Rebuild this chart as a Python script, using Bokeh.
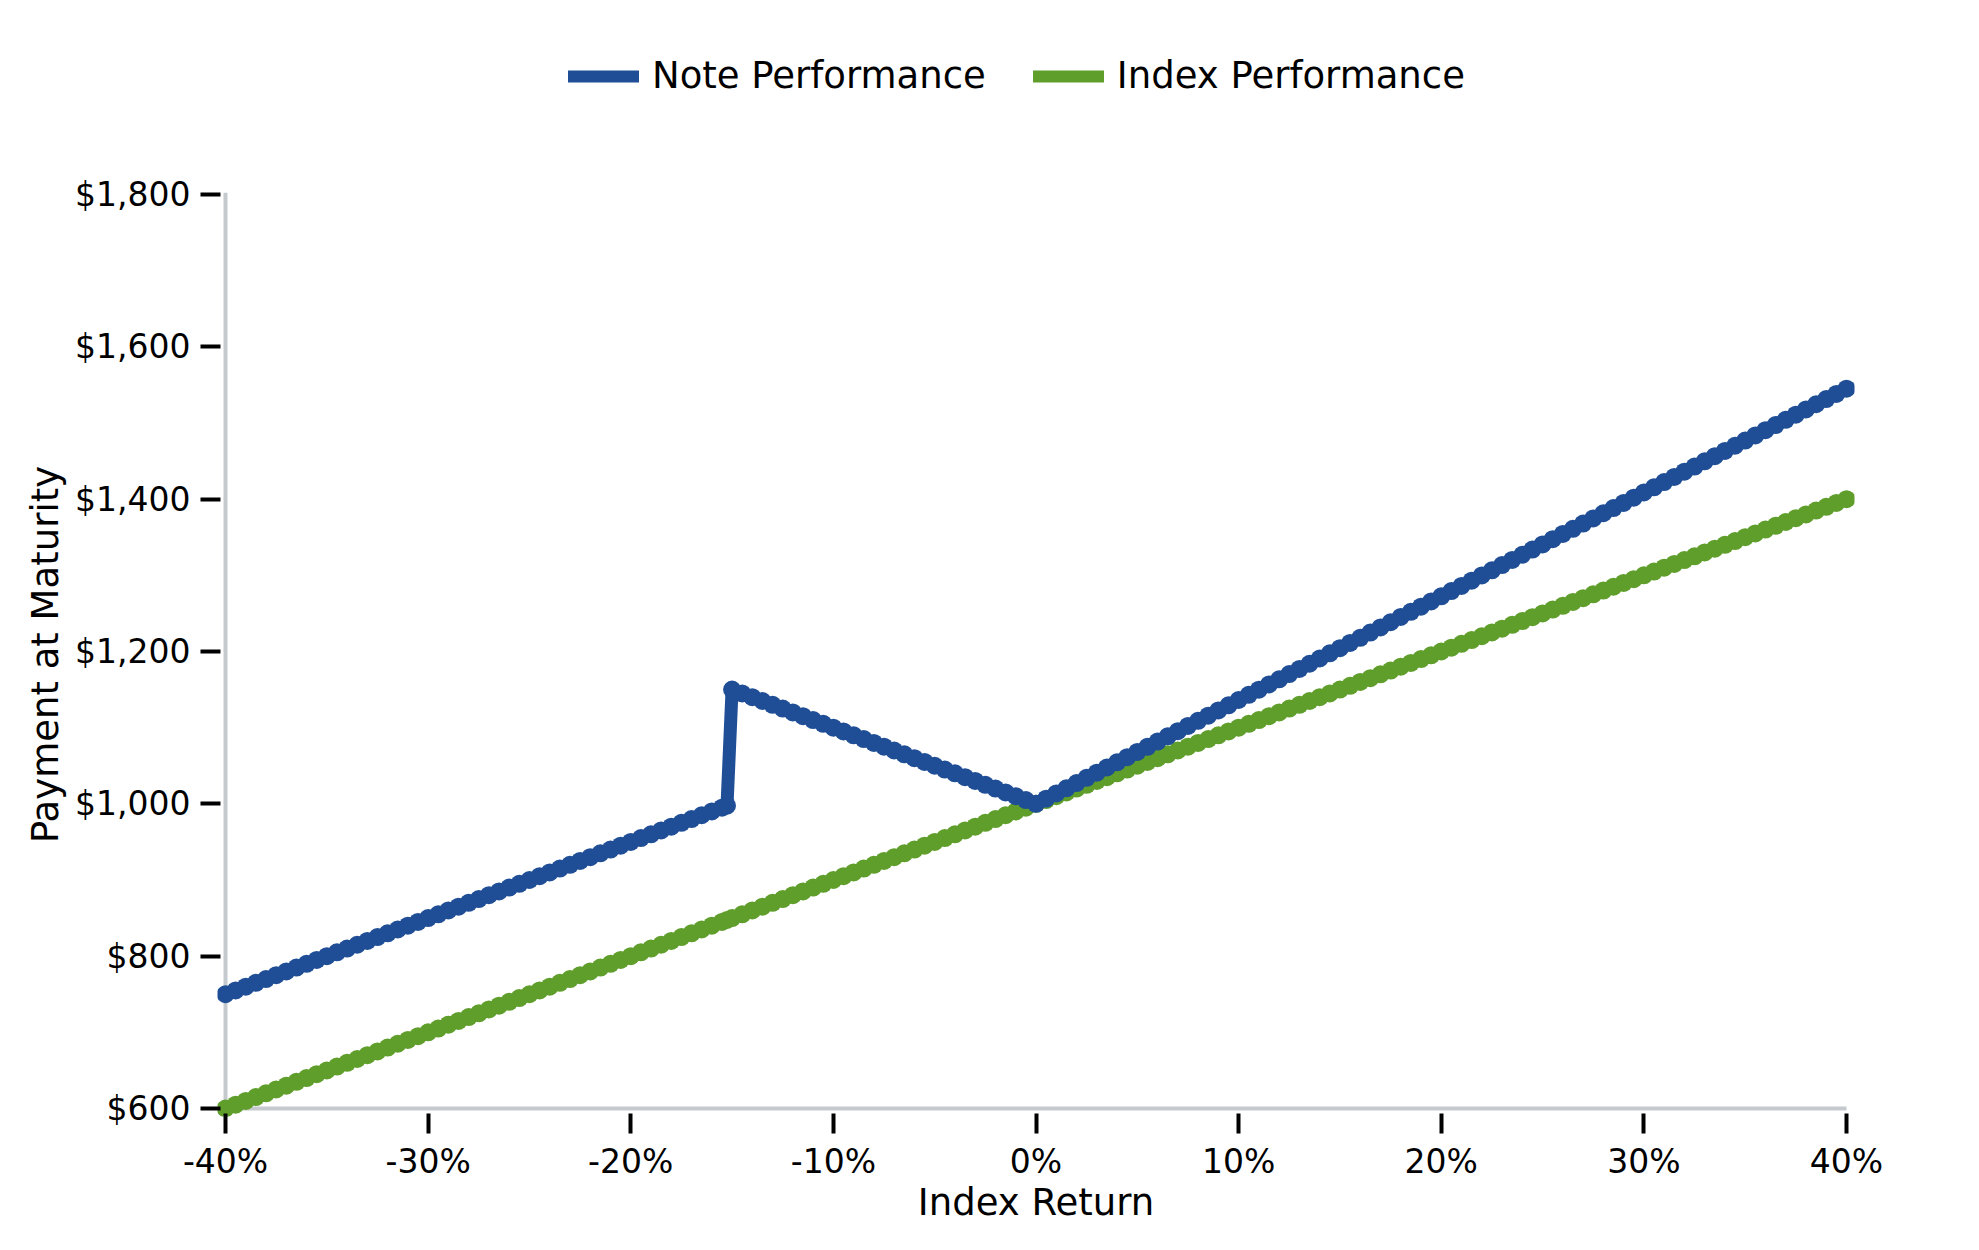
from bokeh.plotting import figure
from bokeh.layouts import column
from bokeh.models import Range1d, FixedTicker, Legend, LegendItem, ColumnDataSource
from bokeh.embed import file_html
from bokeh.resources import INLINE

# ---- data ----
index_return = [
    -40.0, -39.5, -39.0, -38.5, -38.0, -37.5, -37.0, -36.5, -36.0, -35.5,
    -35.0, -34.5, -34.0, -33.5, -33.0, -32.5, -32.0, -31.5, -31.0, -30.5,
    -30.0, -29.5, -29.0, -28.5, -28.0, -27.5, -27.0, -26.5, -26.0, -25.5,
    -25.0, -24.5, -24.0, -23.5, -23.0, -22.5, -22.0, -21.5, -21.0, -20.5,
    -20.0, -19.5, -19.0, -18.5, -18.0, -17.5, -17.0, -16.5, -16.0, -15.5,
    -15.25,
    -15.0, -14.5, -14.0, -13.5, -13.0, -12.5, -12.0, -11.5, -11.0, -10.5,
    -10.0, -9.5, -9.0, -8.5, -8.0, -7.5, -7.0, -6.5, -6.0, -5.5,
    -5.0, -4.5, -4.0, -3.5, -3.0, -2.5, -2.0, -1.5, -1.0, -0.5,
    0.0, 0.5, 1.0, 1.5, 2.0, 2.5, 3.0, 3.5, 4.0, 4.5,
    5.0, 5.5, 6.0, 6.5, 7.0, 7.5, 8.0, 8.5, 9.0, 9.5,
    10.0, 10.5, 11.0, 11.5, 12.0, 12.5, 13.0, 13.5, 14.0, 14.5,
    15.0, 15.5, 16.0, 16.5, 17.0, 17.5, 18.0, 18.5, 19.0, 19.5,
    20.0, 20.5, 21.0, 21.5, 22.0, 22.5, 23.0, 23.5, 24.0, 24.5,
    25.0, 25.5, 26.0, 26.5, 27.0, 27.5, 28.0, 28.5, 29.0, 29.5,
    30.0, 30.5, 31.0, 31.5, 32.0, 32.5, 33.0, 33.5, 34.0, 34.5,
    35.0, 35.5, 36.0, 36.5, 37.0, 37.5, 38.0, 38.5, 39.0, 39.5,
    40.0,
]

note_performance = [
    750, 755, 760, 765, 770, 775, 780, 785, 790, 795,
    800, 805, 810, 815, 820, 825, 830, 835, 840, 845,
    850, 855, 860, 865, 870, 875, 880, 885, 890, 895,
    900, 905, 910, 915, 920, 925, 930, 935, 940, 945,
    950, 955, 960, 965, 970, 975, 980, 985, 990, 995,
    997.5,
    1150, 1145, 1140, 1135, 1130, 1125, 1120, 1115, 1110, 1105,
    1100, 1095, 1090, 1085, 1080, 1075, 1070, 1065, 1060, 1055,
    1050, 1045, 1040, 1035, 1030, 1025, 1020, 1015, 1010, 1005,
    1000, 1006.8, 1013.6, 1020.4, 1027.3, 1034.1, 1040.9, 1047.7, 1054.5, 1061.3,
    1068.1, 1074.9, 1081.8, 1088.6, 1095.4, 1102.2, 1109.0, 1115.8, 1122.6, 1129.4,
    1136.3, 1143.1, 1149.9, 1156.7, 1163.5, 1170.3, 1177.1, 1183.9, 1190.8, 1197.6,
    1204.4, 1211.2, 1218.0, 1224.8, 1231.6, 1238.4, 1245.3, 1252.1, 1258.9, 1265.7,
    1272.5, 1279.3, 1286.1, 1292.9, 1299.8, 1306.6, 1313.4, 1320.2, 1327.0, 1333.8,
    1340.6, 1347.4, 1354.3, 1361.1, 1367.9, 1374.7, 1381.5, 1388.3, 1395.1, 1401.9,
    1408.8, 1415.6, 1422.4, 1429.2, 1436.0, 1442.8, 1449.6, 1456.4, 1463.3, 1470.1,
    1476.9, 1483.7, 1490.5, 1497.3, 1504.1, 1510.9, 1517.8, 1524.6, 1531.4, 1538.2,
    1545.0,
]

index_performance = [
    600, 605, 610, 615, 620, 625, 630, 635, 640, 645,
    650, 655, 660, 665, 670, 675, 680, 685, 690, 695,
    700, 705, 710, 715, 720, 725, 730, 735, 740, 745,
    750, 755, 760, 765, 770, 775, 780, 785, 790, 795,
    800, 805, 810, 815, 820, 825, 830, 835, 840, 845,
    847.5,
    850, 855, 860, 865, 870, 875, 880, 885, 890, 895,
    900, 905, 910, 915, 920, 925, 930, 935, 940, 945,
    950, 955, 960, 965, 970, 975, 980, 985, 990, 995,
    1000, 1005, 1010, 1015, 1020, 1025, 1030, 1035, 1040, 1045,
    1050, 1055, 1060, 1065, 1070, 1075, 1080, 1085, 1090, 1095,
    1100, 1105, 1110, 1115, 1120, 1125, 1130, 1135, 1140, 1145,
    1150, 1155, 1160, 1165, 1170, 1175, 1180, 1185, 1190, 1195,
    1200, 1205, 1210, 1215, 1220, 1225, 1230, 1235, 1240, 1245,
    1250, 1255, 1260, 1265, 1270, 1275, 1280, 1285, 1290, 1295,
    1300, 1305, 1310, 1315, 1320, 1325, 1330, 1335, 1340, 1345,
    1350, 1355, 1360, 1365, 1370, 1375, 1380, 1385, 1390, 1395,
    1400,
]

x_ticks = [-40, -30, -20, -10, 0, 10, 20, 30, 40]
x_tick_labels = ["-40%", "-30%", "-20%", "-10%", "0%", "10%", "20%", "30%", "40%"]
y_ticks = [600, 800, 1000, 1200, 1400, 1600, 1800]
y_tick_labels = ["$600", "$800", "$1,000", "$1,200", "$1,400", "$1,600", "$1,800"]

series_names = ["Note Performance", "Index Performance"]
BLUE = "#1f4e96"
GREEN = "#5f9e2b"
AXIS_GRAY = "#c5cacf"
FONT = "DejaVu Sans"

Y_AXIS_TOP = 1802.6
W = 1960
TOP_H = 160
MAIN_H = 1080

src = ColumnDataSource(dict(x=index_return, note=note_performance, index=index_performance))

# ---------- main chart ----------
p = figure(
    width=W, height=MAIN_H,
    x_range=Range1d(-40.395, 40.395),
    y_range=Range1d(589.5, Y_AXIS_TOP),
    output_backend="svg", toolbar_location=None,
    min_border_left=217, min_border_right=106,
    min_border_top=32, min_border_bottom=124,
)
p.outline_line_color = None
p.xgrid.visible = False
p.ygrid.visible = False
p.background_fill_color = "white"
p.border_fill_color = "white"

# light gray axis lines meeting at the data origin corner
p.segment(x0=[x_ticks[0], x_ticks[0]], y0=[y_ticks[0], y_ticks[0]],
          x1=[x_ticks[-1], x_ticks[0]], y1=[y_ticks[0], Y_AXIS_TOP],
          line_color=AXIS_GRAY, line_width=4)

p.line("x", "index", source=src, line_color=GREEN, line_width=13,
       line_cap="round", line_join="round")
p.scatter("x", "index", source=src, size=18, fill_color=GREEN, line_color=None)
p.line("x", "note", source=src, line_color=BLUE, line_width=13,
       line_cap="round", line_join="round")
p.scatter("x", "note", source=src, size=18, fill_color=BLUE, line_color=None)

for ax in (p.xaxis[0], p.yaxis[0]):
    ax.axis_line_color = None
    ax.major_tick_line_color = "black"
    ax.major_tick_line_width = 4
    ax.major_tick_in = 3
    ax.major_tick_out = 17
    ax.minor_tick_line_color = None
    ax.major_label_text_font = FONT
    ax.major_label_text_font_size = "33px"
    ax.major_label_text_color = "black"
    ax.major_label_standoff = 10
    ax.axis_label_text_font = FONT
    ax.axis_label_text_font_size = "37px"
    ax.axis_label_text_font_style = "normal"
    ax.axis_label_text_color = "black"

p.xaxis.ticker = FixedTicker(ticks=x_ticks)
p.xaxis.major_label_overrides = {t: l for t, l in zip(x_ticks, x_tick_labels)}
p.xaxis.major_label_standoff = 8
p.yaxis.ticker = FixedTicker(ticks=y_ticks)
p.yaxis.major_label_overrides = {t: l for t, l in zip(y_ticks, y_tick_labels)}
p.xaxis.axis_label = "Index Return"
p.yaxis.axis_label = "Payment at Maturity"
p.xaxis.axis_label_standoff = -3
p.yaxis.axis_label_standoff = 5

# ---------- legend strip on top (frame aligned with the main frame) ----------
top = figure(
    width=W, height=TOP_H,
    x_range=Range1d(0, 1), y_range=Range1d(0, 1),
    output_backend="svg", toolbar_location=None,
    x_axis_type=None, y_axis_type=None,
    min_border_left=0, min_border_right=0, min_border_top=0, min_border_bottom=0,
)
top.outline_line_color = None
top.xgrid.visible = False
top.ygrid.visible = False
# off-range proxy renderers, used only for the legend glyphs
proxy = ColumnDataSource(dict(x=[0.0, 1.0], y=[-5.0, -5.0]))
leg_note = top.line("x", "y", source=proxy, line_color=BLUE, line_width=12, line_cap="round")
leg_index = top.line("x", "y", source=proxy, line_color=GREEN, line_width=12, line_cap="round")

legend = Legend(
    items=[LegendItem(label=series_names[0], renderers=[leg_note]),
           LegendItem(label=series_names[1], renderers=[leg_index])],
    orientation="horizontal",
    location=(351, 63),
    glyph_width=71, glyph_height=40, label_height=40,
    label_standoff=13, spacing=47, padding=0, margin=0,
    border_line_color=None, background_fill_alpha=0,
    label_text_font=FONT, label_text_font_size="37px", label_text_color="black",
)
top.add_layout(legend)

layout = column(top, p, spacing=0)
open("out.html", "w").write(file_html(layout, INLINE))
